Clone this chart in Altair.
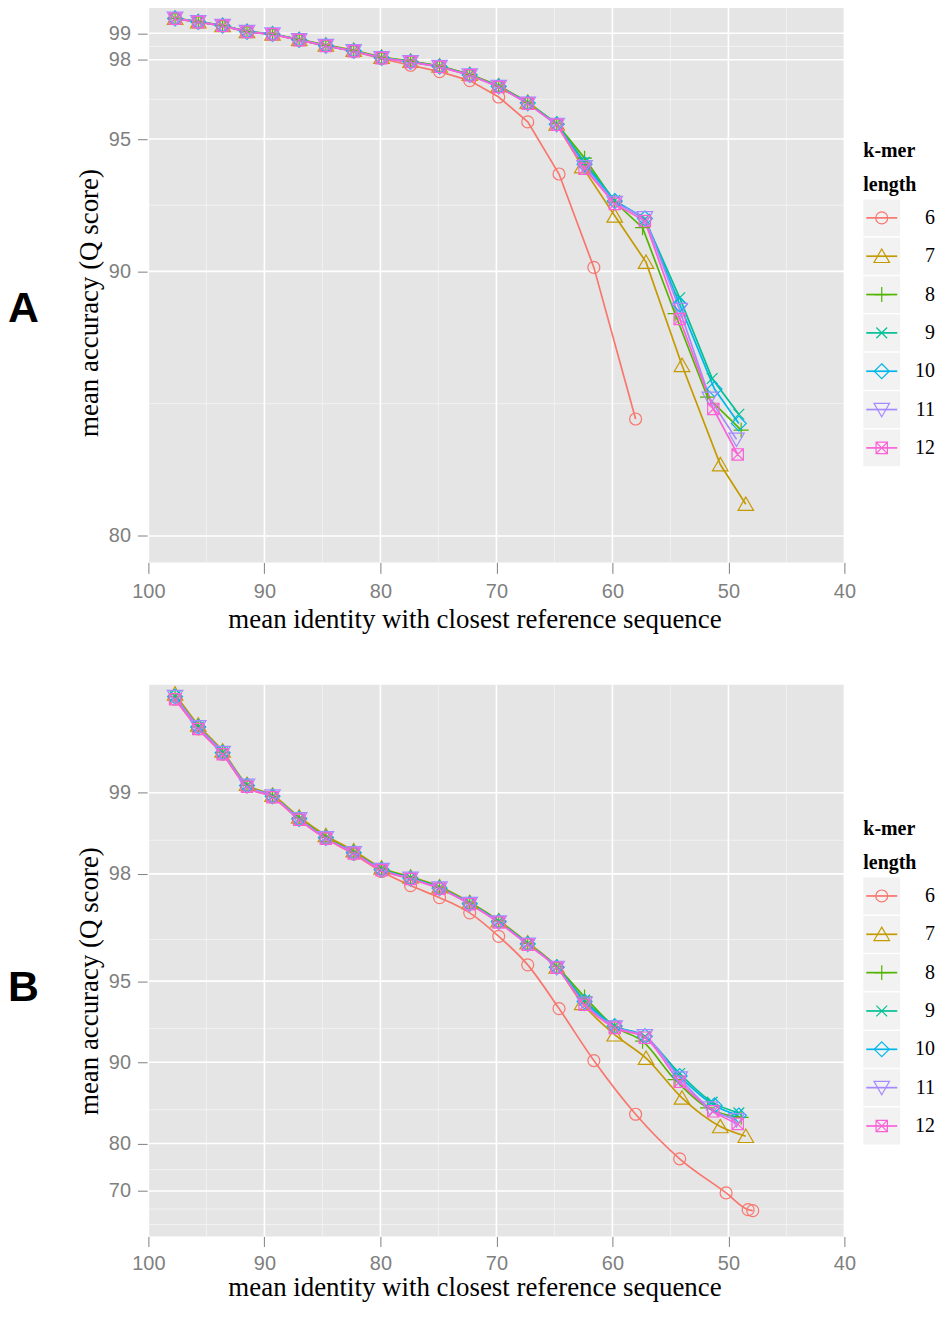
import altair as alt
import pandas as pd

# ---------------- data ----------------
K = [6, 7, 8, 9, 10, 11, 12]
COLORS = ["#F8766D", "#C49A00", "#53B400", "#00C094", "#00B6EB", "#A58AFF", "#FB61D7"]

X6 = [97.7, 95.7, 93.6, 91.5, 89.3, 87.0, 84.7, 82.3, 79.9, 77.4, 74.9, 72.3, 69.8, 67.3, 64.6, 61.6, 58.0, 54.2, 50.2, 48.3, 47.9]
Y6 = [99.55, 99.42, 99.28, 99.05, 98.96, 98.74, 98.52, 98.31, 98.04, 97.79, 97.55, 97.21, 96.59, 95.65, 93.68, 90.15, 84.42, 77.2, 69.5, 64.8, 64.5]
X7 = [97.7, 95.7, 93.6, 91.5, 89.3, 87.0, 84.7, 82.3, 79.9, 77.4, 74.9, 72.3, 69.8, 67.3, 64.8, 62.6, 59.8, 57.1, 54.0, 50.7, 48.5]
Y7 = [99.57, 99.44, 99.30, 99.07, 98.98, 98.77, 98.56, 98.36, 98.10, 97.95, 97.77, 97.45, 97.02, 96.40, 95.57, 93.96, 92.10, 90.35, 86.45, 82.70, 81.20]
X8 = [97.7, 95.7, 93.6, 91.5, 89.3, 87.0, 84.7, 82.3, 79.9, 77.4, 74.9, 72.3, 69.8, 67.3, 64.8, 62.4, 59.8, 57.4, 54.6, 51.8, 48.9]
Y8 = [99.56, 99.43, 99.29, 99.06, 98.97, 98.76, 98.54, 98.34, 98.09, 97.94, 97.76, 97.44, 97.01, 96.38, 95.58, 94.28, 92.62, 91.65, 88.40, 85.25, 84.00]
X9 = [97.7, 95.7, 93.6, 91.5, 89.3, 87.0, 84.7, 82.3, 79.9, 77.4, 74.9, 72.3, 69.8, 67.3, 64.8, 62.4, 59.8, 57.2, 54.2, 51.4, 49.1]
Y9 = [99.56, 99.43, 99.29, 99.06, 98.97, 98.75, 98.53, 98.33, 98.08, 97.93, 97.75, 97.43, 97.00, 96.37, 95.57, 94.12, 92.68, 91.97, 89.00, 85.95, 84.60]
X10 = [97.7, 95.7, 93.6, 91.5, 89.3, 87.0, 84.7, 82.3, 79.9, 77.4, 74.9, 72.3, 69.8, 67.3, 64.8, 62.4, 59.8, 57.2, 54.2, 51.2, 49.1]
Y10 = [99.56, 99.43, 99.29, 99.06, 98.97, 98.75, 98.53, 98.33, 98.07, 97.92, 97.74, 97.42, 96.99, 96.36, 95.56, 94.05, 92.66, 92.00, 88.75, 85.55, 84.25]
X11 = [97.7, 95.7, 93.6, 91.5, 89.3, 87.0, 84.7, 82.3, 79.9, 77.4, 74.9, 72.3, 69.8, 67.3, 64.8, 62.4, 59.8, 57.2, 54.2, 51.6, 49.3]
Y11 = [99.56, 99.43, 99.29, 99.06, 98.97, 98.75, 98.53, 98.33, 98.07, 97.92, 97.74, 97.42, 96.98, 96.35, 95.55, 93.95, 92.60, 92.02, 88.55, 85.20, 83.65]
X12 = [97.7, 95.7, 93.6, 91.5, 89.3, 87.0, 84.7, 82.3, 79.9, 77.4, 74.9, 72.3, 69.8, 67.3, 64.8, 62.4, 59.8, 57.2, 54.2, 51.3, 49.2]
Y12 = [99.55, 99.42, 99.28, 99.05, 98.96, 98.74, 98.52, 98.32, 98.06, 97.91, 97.73, 97.41, 96.97, 96.34, 95.54, 93.88, 92.55, 91.90, 88.20, 84.80, 83.08]

SERIES_X = [X6, X7, X8, X9, X10, X11, X12]
SERIES_Y = [Y6, Y7, Y8, Y9, Y10, Y11, Y12]

X_MAJOR = [40, 50, 60, 70, 80, 90, 100]
X_MINOR = [45, 55, 65, 75, 85, 95]
A_Y_MAJOR = [80, 90, 95, 98, 99]
A_Y_MINOR = [85, 92.5, 96.5, 98.5]
B_Y_MAJOR = [70, 80, 90, 95, 98, 99]
B_Y_MINOR = [60, 65, 75, 85, 92.5, 96.5, 98.5]

X_TITLE = "mean identity with closest reference sequence"
Y_TITLE = "mean accuracy (Q score)"
LEGEND_TITLE = ["k-mer", "length"]

# ---------------- styles ----------------
SHAPES = [
    "circle",
    "M0,-1.2L1.3,1.05L-1.3,1.05Z",
    "M-1.25,0L1.25,0M0,-1.25L0,1.25",
    "M-0.9,-0.9L0.9,0.9M-0.9,0.9L0.9,-0.9",
    "M0,-1.25L1.25,0L0,1.25L-1.25,0Z",
    "M0,1.2L1.3,-1.05L-1.3,-1.05Z",
    "M-0.95,-0.95L0.95,-0.95L0.95,0.95L-0.95,0.95ZM-0.95,-0.95L0.95,0.95M-0.95,0.95L0.95,-0.95",
]
W = 699
SERIF = "Liberation Serif"
SANS = "Liberation Sans"
LEG_TOP, LEG_STEP, LEG_KEY = 193.5, 38.5, 37
LEG_X = 718

rows = []
for k, xs, ys in zip(K, SERIES_X, SERIES_Y):
    for x, y in zip(xs, ys):
        rows.append({"k": k, "x": x, "acc": y})
df = pd.DataFrame(rows)

XS = alt.Scale(domain=[100, 40], nice=False, zero=False)
COLOR = alt.Color("k:O", scale=alt.Scale(domain=K, range=COLORS), legend=None)
SHAPE = alt.Shape("k:O", scale=alt.Scale(domain=K, range=SHAPES), legend=None)


def legend_layers(letter):
    ld = (alt.Chart(pd.DataFrame({"k": K}))
          .transform_window(row="row_number()")
          .transform_calculate(ly=f"{LEG_TOP} + {LEG_STEP} * (datum.row - 1) + {LEG_KEY / 2}"))
    one = pd.DataFrame({"i": [0]})
    ly = alt.Y("ly:Q", scale=None)
    bg = ld.mark_point(shape="square", filled=True, size=LEG_KEY * LEG_KEY, color="#F2F2F2",
                       opacity=1).encode(y=ly, x=alt.value(LEG_X + LEG_KEY / 2))
    ln = ld.mark_point(shape="M-0.84,0L0.84,0", filled=False, size=LEG_KEY * LEG_KEY,
                       strokeWidth=1.7, opacity=1).encode(
        y=ly, x=alt.value(LEG_X + LEG_KEY / 2), color=COLOR)
    pt = ld.mark_point(filled=False, size=144, strokeWidth=1.2, opacity=1).encode(
        y=ly, x=alt.value(LEG_X + LEG_KEY / 2), color=COLOR, shape=SHAPE)
    tx = ld.mark_text(align="right", baseline="middle", font=SERIF,
                      fontSize=20, color="black").encode(
        y=ly, x=alt.value(790), text="k:O")
    title = alt.Chart(one).mark_text(text=LEGEND_TITLE, align="left", baseline="alphabetic",
                                     font=SERIF, fontWeight="bold", fontSize=20,
                                     lineHeight=34, color="black").encode(
        x=alt.value(LEG_X), y=alt.value(151))
    lab = alt.Chart(one).mark_text(text=letter, align="left", baseline="alphabetic",
                                   font=SANS, fontWeight="bold", fontSize=43,
                                   color="black").encode(
        x=alt.value(-141), y=alt.value(317))
    return [bg, ln, pt, tx, title, lab]


def panel(letter, yfield, yscale, yaxis, xaxis, y_major, y_minor, interp, keep_min, height):
    base = alt.Chart(df).transform_calculate(err="100 - datum.acc")
    if keep_min is not None:
        base = base.transform_filter(alt.datum.acc >= keep_min)

    def hgrid(vals, color, width):
        return (alt.Chart(pd.DataFrame({"acc": vals}))
                .transform_calculate(err="100 - datum.acc")
                .mark_rule(color=color, strokeWidth=width)
                .encode(y=alt.Y(f"{yfield}:Q", scale=yscale, axis=yaxis)))

    def vgrid(vals, color, width):
        return (alt.Chart(pd.DataFrame({"x": vals}))
                .mark_rule(color=color, strokeWidth=width)
                .encode(x=alt.X("x:Q", scale=XS, axis=xaxis)))

    lines = base.mark_line(strokeWidth=1.7, interpolate=interp).encode(
        x=alt.X("x:Q", scale=XS, axis=xaxis),
        y=alt.Y(f"{yfield}:Q", scale=yscale, axis=yaxis),
        color=COLOR, order="x:Q")
    pts = base.mark_point(filled=False, size=144, strokeWidth=1.2, opacity=1).encode(
        x=alt.X("x:Q", scale=XS, axis=xaxis),
        y=alt.Y(f"{yfield}:Q", scale=yscale, axis=yaxis),
        color=COLOR, shape=SHAPE)
    return alt.layer(
        vgrid(X_MINOR, "#F2F2F2", 1), hgrid(y_minor, "#F2F2F2", 1),
        vgrid(X_MAJOR, "white", 1.6), hgrid(y_major, "white", 1.6),
        lines, pts, *legend_layers(letter)).properties(width=W, height=height)


A_XAX = alt.Axis(values=X_MAJOR, format="d", title=X_TITLE, titleX=327.5,
                 labelPadding=8, titlePadding=5)
B_XAX = alt.Axis(values=X_MAJOR, format="d", title=X_TITLE, titleX=327.5,
                 tickSize=10, labelPadding=7, titlePadding=1)
A_YS = alt.Scale(domain=[79, 100], nice=False, zero=False)
A_AX = alt.Axis(values=A_Y_MAJOR, title=Y_TITLE, titleY=297)
B_YS = alt.Scale(type="log", domain=[0.398, 44.27], nice=False, reverse=True)
B_AX = alt.Axis(values=[100 - v for v in B_Y_MAJOR], labelExpr="round(100 - datum.value)",
                title=Y_TITLE, titleY=297)

pa = panel("A", "acc", A_YS, A_AX, A_XAX, A_Y_MAJOR, A_Y_MINOR, "linear", 79, 558)
pb = panel("B", "err", B_YS, B_AX, B_XAX, B_Y_MAJOR, B_Y_MINOR, "monotone", None, 554)

chart = (alt.vconcat(pa, pb, spacing=52)
         .properties(padding={"left": 0, "top": -5, "right": 4, "bottom": 0})
         .configure_view(fill="#E5E5E5", stroke=None)
         .configure_axis(labelFont=SANS, labelFontSize=20, labelColor="#7F7F7F",
                         labelFlush=False,
                         tickColor="#7F7F7F", tickSize=11, tickWidth=1, domain=False,
                         grid=False, titleFont=SERIF, titleFontSize=27,
                         titleFontWeight="normal", titleColor="black")
         .configure_axisY(labelPadding=7, titlePadding=5))

chart.save("out.html", embed_options={"renderer": "svg", "actions": False})
